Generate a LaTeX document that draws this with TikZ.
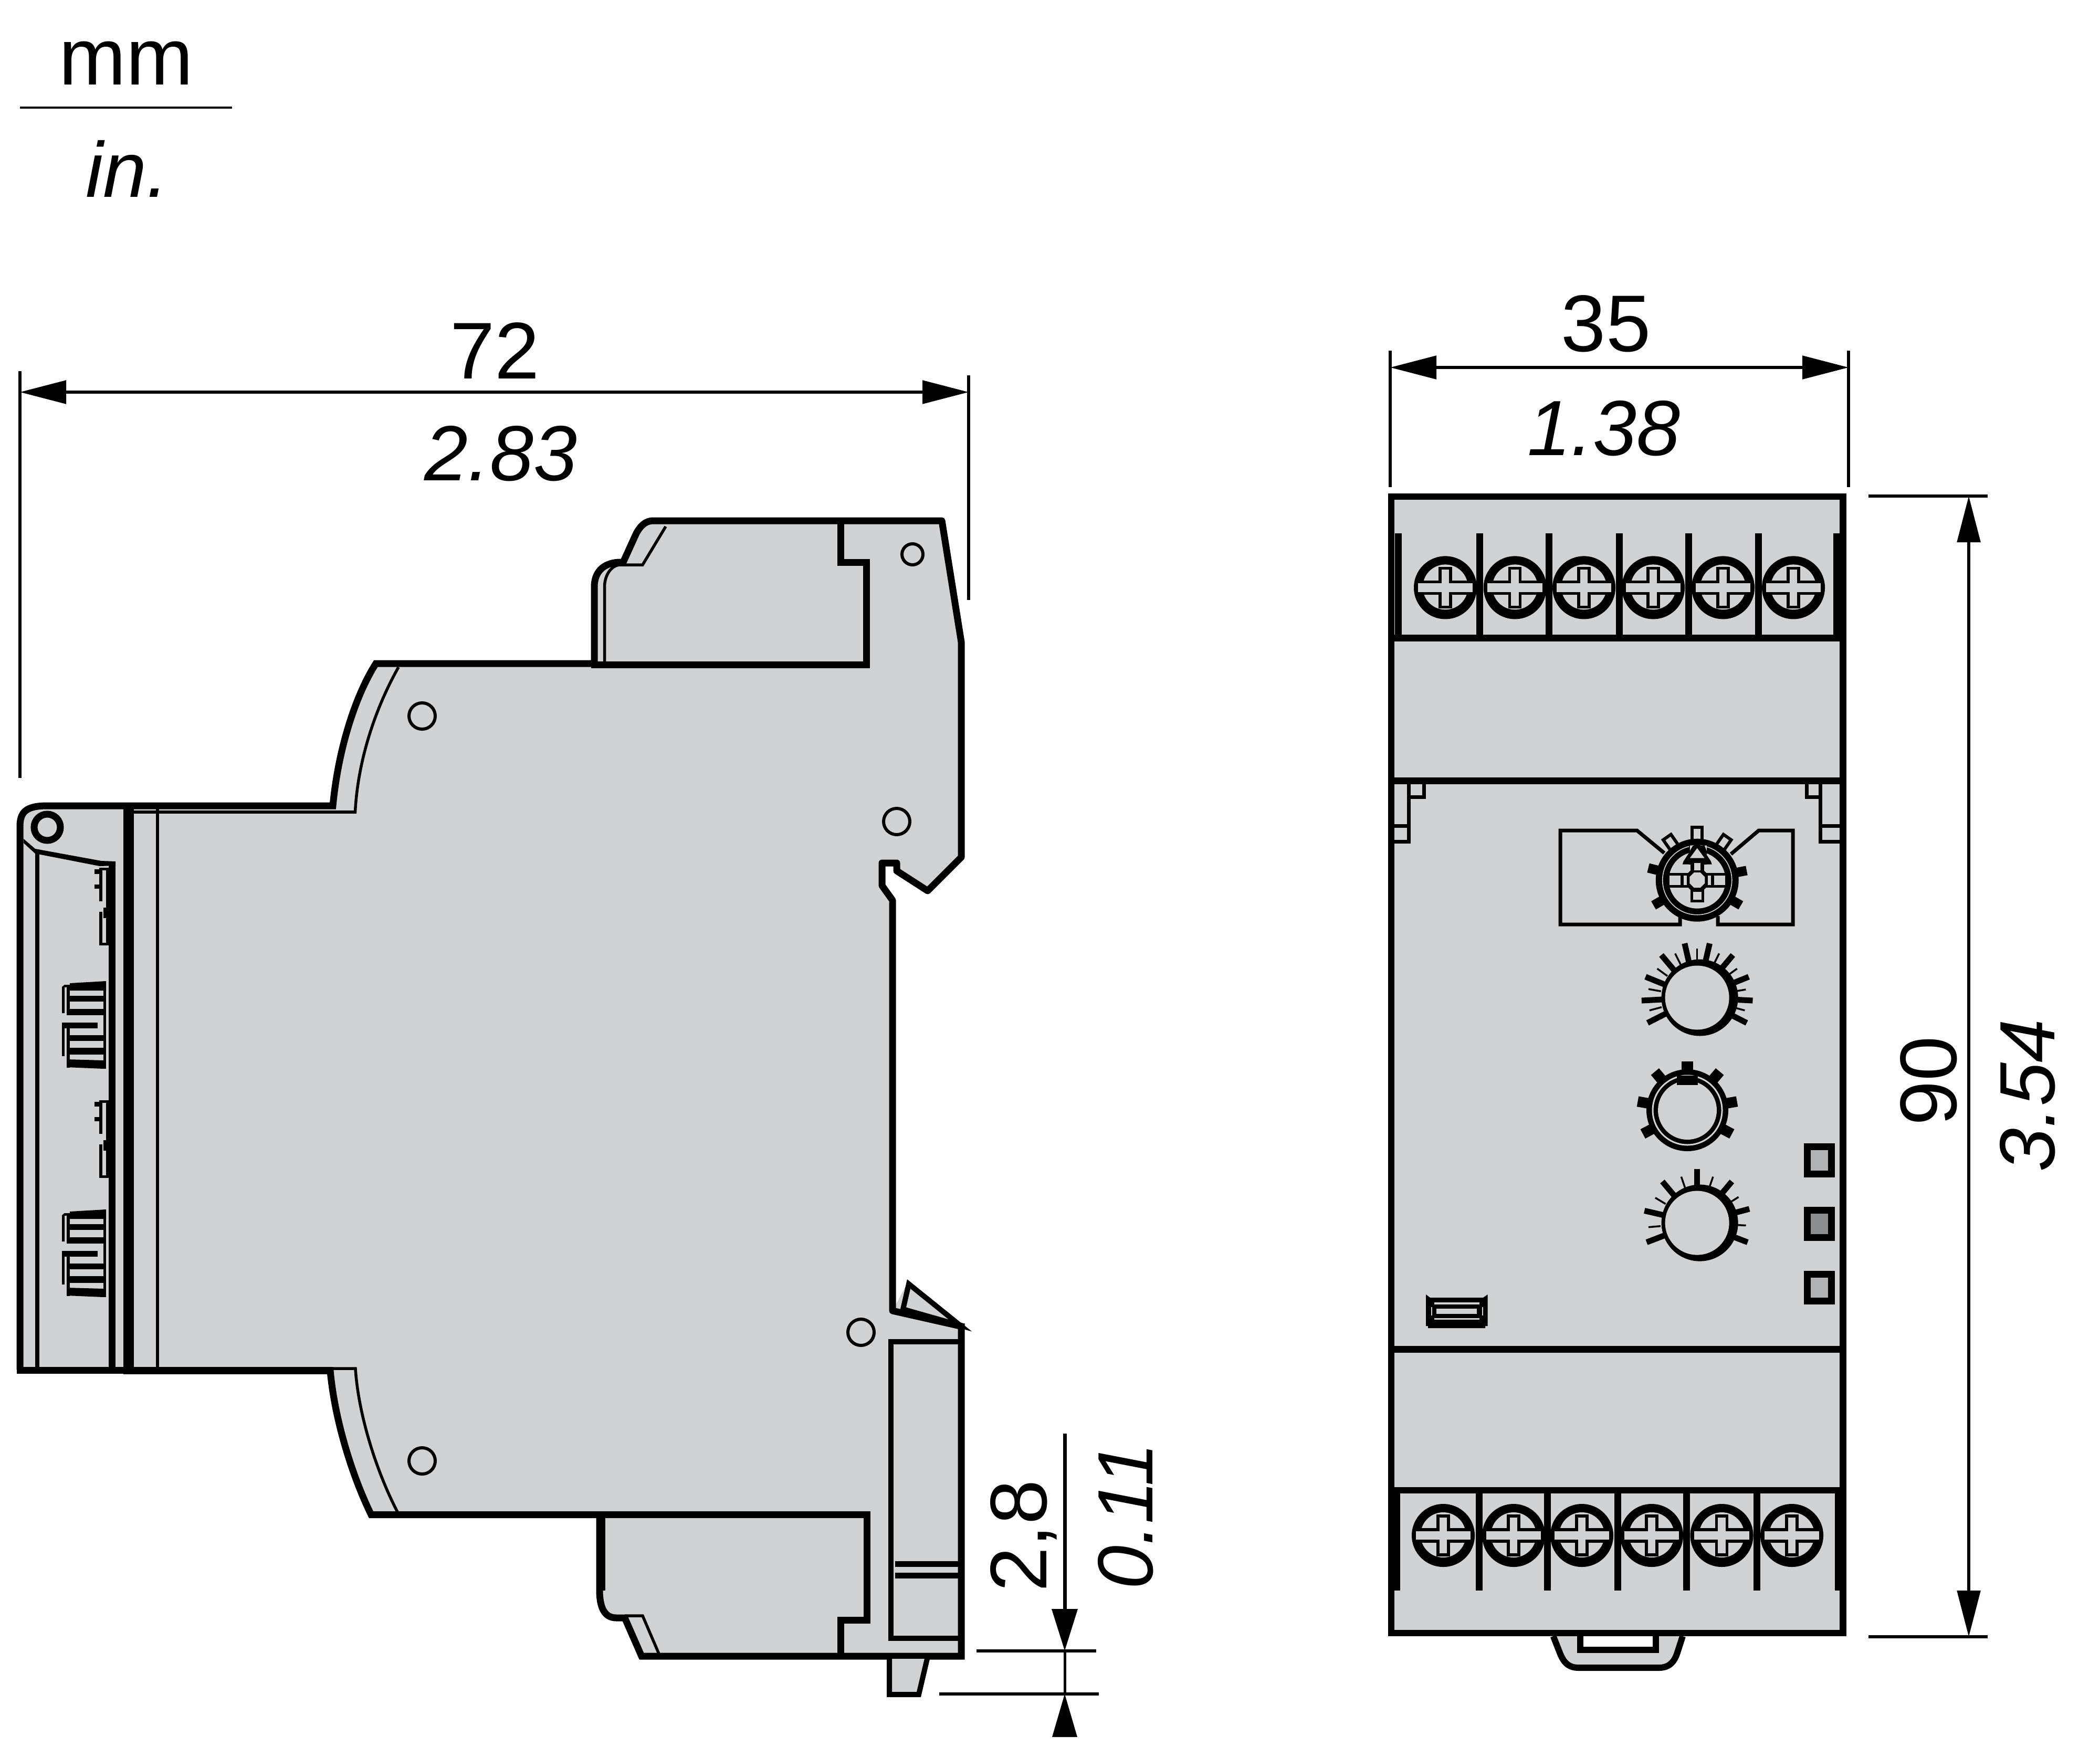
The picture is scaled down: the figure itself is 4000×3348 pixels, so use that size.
\documentclass[tikz,border=0pt]{standalone}
\usepackage{fontspec}
\setmainfont{Liberation Sans}
\usetikzlibrary{arrows.meta}
\definecolor{body}{HTML}{D1D2D4}
\definecolor{ledl}{HTML}{B1B2B5}
\definecolor{ledd}{HTML}{8B8D90}
\tikzset{
  x=0.25pt,y=-0.25pt,
  lw/.style={line width=#1*0.25pt},
  outl/.style={draw=black,lw=13,line join=miter,miter limit=4},
  thinl/.style={draw=black,lw=5.5},
  dimline/.style={draw=black,lw=5.5,{Triangle[length=22pt,width=11pt]}-{Triangle[length=22pt,width=11pt]}},
  extl/.style={draw=black,lw=5.5},
  dimtext/.style={font=\fontsize{38.3pt}{40pt}\selectfont,inner sep=0pt},
  dimit/.style={font=\fontsize{37.3pt}{40pt}\selectfont\itshape,inner sep=0pt},
  hole/.style={draw=black,lw=6,fill=body},
}
\newcommand{\screw}[2]{%
  \begin{scope}[shift={(#1,#2)}]
    \fill[black] (0,0) circle[radius=60];
    \fill[body] (0,-1) circle[radius=43];
    \path[draw=black,lw=5.5,fill=body] (-10,-11) -- (-10,-37) -- (10,-37) -- (10,-11) -- (55,-11) -- (55,11) -- (10,11) -- (10,37) -- (-10,37) -- (-10,11) -- (-55,11) -- (-55,-11) -- cycle;
  \end{scope}}
\newcommand{\ticks}[2]{\foreach \a in {#1}{\draw[black,lw=3.5] (\a:70) -- (\a:#2);}}
\newcommand{\hook}[1]{%
  \begin{scope}[shift={(0,#1)}]
    \fill[black] (189,1653) rectangle (195,1717);
    \fill[black] (189,1653) rectangle (207,1658);
    \fill[black] (202,1653) rectangle (207,1801);
    \fill[black] (180,1656) rectangle (189,1665);
    \fill[black] (180,1685) rectangle (189,1693);
    \fill[black] (197,1729) rectangle (207,1749);
    \fill[black] (189,1737) rectangle (195,1801);
    \fill[black] (189,1796) rectangle (207,1801);
  \end{scope}}
\newcommand{\comb}[1]{%
  \begin{scope}[shift={(0,#1)}]
    \fill[black] (133,1873) -- (202,1869) -- (202,1887) -- (133,1887) -- cycle;
    \fill[black] (133,1897) rectangle (197,1908);
    \fill[black] (133,1922) rectangle (197,1934);
    \fill[black] (118,1948) rectangle (186,1959);
    \fill[black] (133,1972) rectangle (197,1983);
    \fill[black] (133,1996) rectangle (197,2009);
    \fill[black] (127,2018) -- (197,2020) -- (197,2036) -- (127,2033) -- cycle;
    \fill[black] (197,1869) rectangle (202,2036);
    \fill[black] (127,1878) rectangle (133,1934);
    \fill[black] (127,1948) rectangle (133,2034);
    \fill[black] (118,1880) -- (123,1876) -- (133,1876) -- (133,1880) -- (123,1881) -- (123,1930) -- (118,1930) -- cycle;
    \fill[black] (118,1948) rectangle (123,2012);
  \end{scope}}
\begin{document}
\begin{tikzpicture}
\useasboundingbox (0,0) rectangle (4000,3348);
% legend
\node[dimtext] (mm) at (240,120) {mm};
\node[dimit] (inch) at (242,321) {in.};
\coordinate (la) at (38,205); \coordinate (lb) at (442,205);
\draw[extl,lw=4] (la) -- (lb);

% ---------- side view ----------
% grey silhouette
\path[fill=body]
  (55,1534) -- (634,1534) .. controls (645,1420) and (680,1320) .. (716,1264) -- (1132,1264)
  -- (1132,1118) .. controls (1132,1085) and (1155,1071) .. (1182,1071) -- (1187,1071) -- (1212,1016)
  .. controls (1222,998) and (1232,992) .. (1245,992) -- (1790,992) -- (1831,1223) -- (1831,1633)
  -- (1767,1697) -- (1708,1659) -- (1708,1644) -- (1680,1644) -- (1680,1687) -- (1700,1715) -- (1700,2497)
  -- (1731,2439) -- (1831,2527) -- (1831,3155) -- (1222,3155) -- (1190,3082) -- (1174,3082)
  .. controls (1150,3082) and (1142,3060) .. (1142,3029) -- (1142,2885) -- (707,2885)
  .. controls (670,2810) and (636,2700) .. (628.5,2611) -- (40,2611) -- (38,1570)
  .. controls (38,1545) and (50,1534) .. (85,1534) -- cycle;
% left end cap
\path[draw=black,lw=13,line join=round] (38,2609) -- (38,1575) .. controls (38,1548) and (48,1535) .. (90,1535) -- (255,1535);
\draw[black,lw=8] (71,1618) -- (71,2609);
\draw[black,lw=13] (213.5,1641) -- (213.5,2609);
\fill[black] (235,1529) rectangle (255,2618);
\draw[black,lw=6] (300,1541) -- (300,2607);
\draw[black,lw=13] (32,2610) -- (240,2610);
\draw[black,lw=3] (255,1545) -- (676,1545);
% hinge
\fill[black] (45,1598) -- (67,1617) -- (193,1640) -- (220,1641) -- (220,1649) -- (190,1650) -- (67,1626) -- (45,1606) -- cycle;
\draw[black,lw=13,fill=body] (90,1576) circle[radius=25];
\comb{0}\comb{435}
\hook{0}\hook{443}
% body curves
\draw[outl] (255,1535) -- (634,1535) .. controls (645,1420) and (680,1320) .. (716,1264) -- (1132,1264);
\draw[thinl] (255,1547) -- (676.5,1547) .. controls (682,1440) and (720,1340) .. (759,1271);
\draw[thinl] (255,2607) -- (677,2607) .. controls (682,2690) and (715,2800) .. (758,2882);
\draw[draw=black,lw=14] (255,2611) -- (635,2611);
\draw[outl] (628.5,2605) .. controls (636,2700) and (670,2810) .. (707,2885.5) -- (1142,2885.5);
% top block
\draw[outl] (1126,1266) -- (1650.6,1266) -- (1650.6,1071) -- (1601,1071) -- (1601,992);
\draw[outl,line join=round] (1132,1266) -- (1132,1118) .. controls (1132,1085) and (1155,1071) .. (1182,1071) -- (1187,1071) -- (1212,1016) .. controls (1222,998) and (1232,992) .. (1245,992) -- (1794,992) -- (1831,1223) -- (1831,1633) -- (1767,1697) -- (1708,1659) -- (1708,1644) -- (1680,1644) -- (1680,1687) -- (1700,1715) -- (1700,2497) -- (1833,2527);
\draw[thinl] (1151.5,1266) -- (1151.5,1118) .. controls (1151.5,1095) and (1165,1076) .. (1182,1076) -- (1224,1076) -- (1268,1003);
% bottom latch
\draw[draw=black,lw=10,fill=body] (1720,2494) -- (1731,2446) -- (1829,2525) -- cycle;
\draw[outl] (1831,2521) -- (1831,3155) -- (1222,3155) -- (1190,3082) -- (1174,3082) .. controls (1150,3082) and (1142,3060) .. (1142,3029) -- (1142,2885);
\draw[thinl] (1150,2885) -- (1150,3030);
\draw[thinl] (1190,3078) -- (1224,3078) -- (1257,3155);
\draw[outl] (1142,2885.5) -- (1651,2885.5) -- (1651,3086) -- (1601,3086) -- (1601,3155);
\draw[draw=black,lw=10] (1831,2556) -- (1697,2556) -- (1697,3121) -- (1831,3121);
\draw[draw=black,lw=11] (1705,2979) -- (1831,2979) (1705,3001) -- (1831,3001);
\path[draw=black,lw=10,fill=body] (1694,3160) -- (1694,3228) -- (1750,3228) -- (1766,3160);
% holes
\draw[hole] (1738,1056) circle[radius=20];
\draw[hole] (1708,1565) circle[radius=25];
\draw[hole] (804,1364) circle[radius=25];
\draw[hole] (1640,2538) circle[radius=25];
\draw[hole] (804,2783) circle[radius=25];

% ---------- front view ----------
\fill[body] (2650,946) rectangle (3511,3111);
\path[draw=black,lw=12,fill=body] (2958.6,3117) -- (2972,3151) .. controls (2980,3170) and (2990,3177) .. (3007,3177) -- (3159.5,3177) .. controls (3176,3177) and (3187,3170) .. (3194,3151) -- (3205,3117);
\fill[white] (3016,3115) rectangle (3148,3137);
\draw[black,lw=12] (3010,3115) -- (3010,3143) -- (3154,3143) -- (3154,3115);
\draw[draw=black,lw=12.5] (2650,946) rectangle (3510.5,3111);
\draw[black,lw=13] (2650,1215) -- (3510.5,1215);
\draw[black,lw=13] (2649,1487.5) -- (3510.5,1487.5);
\draw[black,lw=13] (2649,2570) -- (3510.5,2570);
\draw[black,lw=11.5] (2650,2839) -- (3510.5,2839);
% separators top
\foreach \x in {2818.5,2950.6,3084,3216,3349.5}{\draw[black,lw=13] (\x,1016) -- (\x,1215);}
\draw[black,lw=13] (2663.5,1016) -- (2663.5,1215);
\draw[black,lw=12] (3498,1016) -- (3498,1215);
% separators bottom
\foreach \x in {2817,2947,3081,3212.6,3346}{\draw[black,lw=13] (\x,2839) -- (\x,3029.6);}
\draw[black,lw=14] (2660,2839) -- (2660,3029.6);
\draw[black,lw=9] (3499.5,2839) -- (3499.5,3029.6);
% screws
\foreach \x in {2753,2885.7,3017,3149,3282,3416}{\screw{\x}{1119.4}}
\foreach \x in {2749,2883,3013,3146,3279.5,3413}{\screw{\x}{2925}}
% clips
\draw[black,lw=7] (2683,1487) -- (2683,1603) -- (2655,1603) (2683,1573) -- (2655,1573);
\draw[black,lw=7] (2712,1487) -- (2712,1518) -- (2683,1518);
\draw[black,lw=7] (3467,1487) -- (3467,1603) -- (3505,1603) (3467,1573) -- (3505,1573);
\draw[black,lw=7] (3441,1487) -- (3441,1518) -- (3467,1518);
% dial plate
\draw[black,lw=7,fill=body] (3170,1625) -- (3118,1582) -- (2972,1582) -- (2972,1761) -- (3200,1761) -- (3200,1745);
\draw[black,lw=7,fill=body] (3297,1627) -- (3350,1582) -- (3415,1582) -- (3415,1761) -- (3272,1761) -- (3272,1745);
\begin{scope}[shift={(3232.7,1676.7)},y=0.25pt]
  % hollow teeth (scope has y up)
  \foreach \a in {90}{\path[rotate=\a-90,draw=black,lw=6,fill=body] (-9.5,60) rectangle (9.5,101);}
  \foreach \a in {125,55}{\path[rotate=\a-90,draw=black,lw=6,fill=body] (-9,60) rectangle (9,100);}
  % solid teeth
  \foreach \a in {166,11,210,-30}{\draw[black,lw=18] (\a:70) -- (\a:96);}
  \fill[black] (0,0) circle[radius=79];
  \draw[body,lw=1.6] (0,0) circle[radius=66];
  \fill[body] (0,0) circle[radius=54];
  % arms
  \fill[black] (-54,14) rectangle (54,-14);
  \fill[black] (-13,37) rectangle (13,-42);
  \fill[black,rotate=45] (-22,-22) rectangle (22,22);
  % arrow
  \fill[black] (-16,66) rectangle (18,30);
  \fill[black] (-26,36) -- (0,76) -- (26,36) -- (28,30) -- (-28,30) -- cycle;
  \fill[body] (0,61) -- (14,42) -- (-14,42) -- cycle;
  % grey openings
  \fill[body] (-6,33) rectangle (6,19);
  \fill[body] (-8,-22) rectangle (8,-37);
  \fill[body] (-53,9) rectangle (-32,-9);
  \fill[body] (53,9) rectangle (32,-9);
  \fill[body] (-26,9) rectangle (-20,-9);
  \fill[body] (26,9) rectangle (20,-9);
  \fill[body] (-14.5,6) -- (-6,14.5) -- (6,14.5) -- (14.5,6) -- (14.5,-6) -- (6,-14.5) -- (-6,-14.5) -- (-14.5,-6) -- cycle;
  \fill[body] (-14,66) -- (-8,66) -- (-14,56) -- cycle;
  \fill[body] (14,66) -- (18,66) -- (18,56) -- cycle;
\end{scope}
% knob 2
\begin{scope}[shift={(3232.6,1900.5)},y=0.25pt]
  \foreach \a in {77,103,50,130,22,158,-3,183,-27,207}{\draw[black,lw=11] (\a:66) -- (\a:106);}
  \ticks{90,63.5,116.5,36,144,9.5,170,-15,195}{94}
  \fill[black] (5,0) circle[radius=73];
  \fill[body] (0,0) circle[radius=61];
\end{scope}
% knob 3
\begin{scope}[shift={(3214,2115)},y=0.25pt]
  \foreach \a in {90}{\draw[black,lw=22] (\a:66) -- (\a:93);}
  \foreach \a in {130,50,170,10,208,-28}{\draw[black,lw=20] (\a:70) -- (\a:96);}
  \fill[black] (0,0) circle[radius=78];
  \draw[body,lw=3] (0,0) circle[radius=66];
  \fill[body] (0,0) circle[radius=56];
  \fill[black] (-20,48) rectangle (20,66);
\end{scope}
% knob 4
\begin{scope}[shift={(3232.6,2329.6)},y=0.25pt]
  \foreach \a in {90,130,50,167,15,201,-21}{\draw[black,lw=11] (\a:66) -- (\a:103);}
  \ticks{109,71,149,32,185,-3}{93}
  \fill[black] (5,0) circle[radius=73];
  \fill[body] (0,0) circle[radius=61];
\end{scope}
% LEDs
\draw[black,lw=13,fill=ledl] (3442.5,2184.5) rectangle (3488.5,2236.5);
\draw[black,lw=13,fill=ledd] (3442.5,2305.5) rectangle (3488.5,2357.5);
\draw[black,lw=13,fill=ledl] (3442.5,2427) rectangle (3488.5,2478.5);
% connector
\fill[black] (2716,2466) -- (2724,2472) -- (2825,2472) -- (2833.5,2466) -- (2833.5,2526) -- (2829,2526) -- (2829,2530) -- (2720,2530) -- (2720,2526) -- (2716,2526) -- cycle;
\fill[body] (2732,2481) rectangle (2818,2485);
\fill[body] (2736,2493) rectangle (2813,2503);
\fill[body] (2732,2511) rectangle (2818,2514);
\fill[body] (2726,2490) rectangle (2728,2506);
\fill[body] (2823,2490) rectangle (2825,2506);

% ---------- dimensions ----------
\coordinate (d72a) at (38,747); \coordinate (d72b) at (1845,747);
\draw[extl] (38,707) -- (38,1482);
\draw[extl] (1845,715) -- (1845,1143);
\draw[dimline] (d72a) -- (d72b);
\node[dimtext] (t72) at (943,668) {72};
\node[dimit] (t283) at (954,864) {2.83};

\coordinate (d35a) at (2648,700); \coordinate (d35b) at (3521,700);
\draw[extl] (2648,668) -- (2648,928);
\draw[extl] (3521,668) -- (3521,928);
\draw[dimline] (d35a) -- (d35b);
\node[dimtext] (t35) at (3059,617) {35};
\node[dimit] (t138) at (3055,816) {1.38};

\coordinate (d90a) at (3750,945); \coordinate (d90b) at (3750,3118);
\draw[extl] (3559,945) -- (3786,945);
\draw[extl] (3559,3118) -- (3786,3118);
\draw[dimline] (d90a) -- (d90b);
\node[dimtext,rotate=90] (t90) at (3674,2059) {90};
\node[dimit,rotate=90] (t354) at (3862,2087) {3.54};

\coordinate (d28a) at (2028,2731); \coordinate (d28b) at (2028,3145);
\coordinate (d28c) at (2028,3227); \coordinate (d28d) at (2028,3309);
\draw[extl] (1860,3145) -- (2088,3145);
\draw[extl] (1788.5,3227) -- (2093,3227);
\draw[black,lw=7,-{Triangle[length=20pt,width=12pt]}] (d28a) -- (d28b);
\draw[black,lw=5] (d28b) -- (d28c);
\fill[black] (d28c) -- ++(-24,82) -- ++(48,0) -- cycle;
\node[dimtext,rotate=90] (t28) at (1950,2926) {2,8};
\node[dimit,rotate=90] (t011) at (2144,2888) {0.11};
\end{tikzpicture}
\end{document}
